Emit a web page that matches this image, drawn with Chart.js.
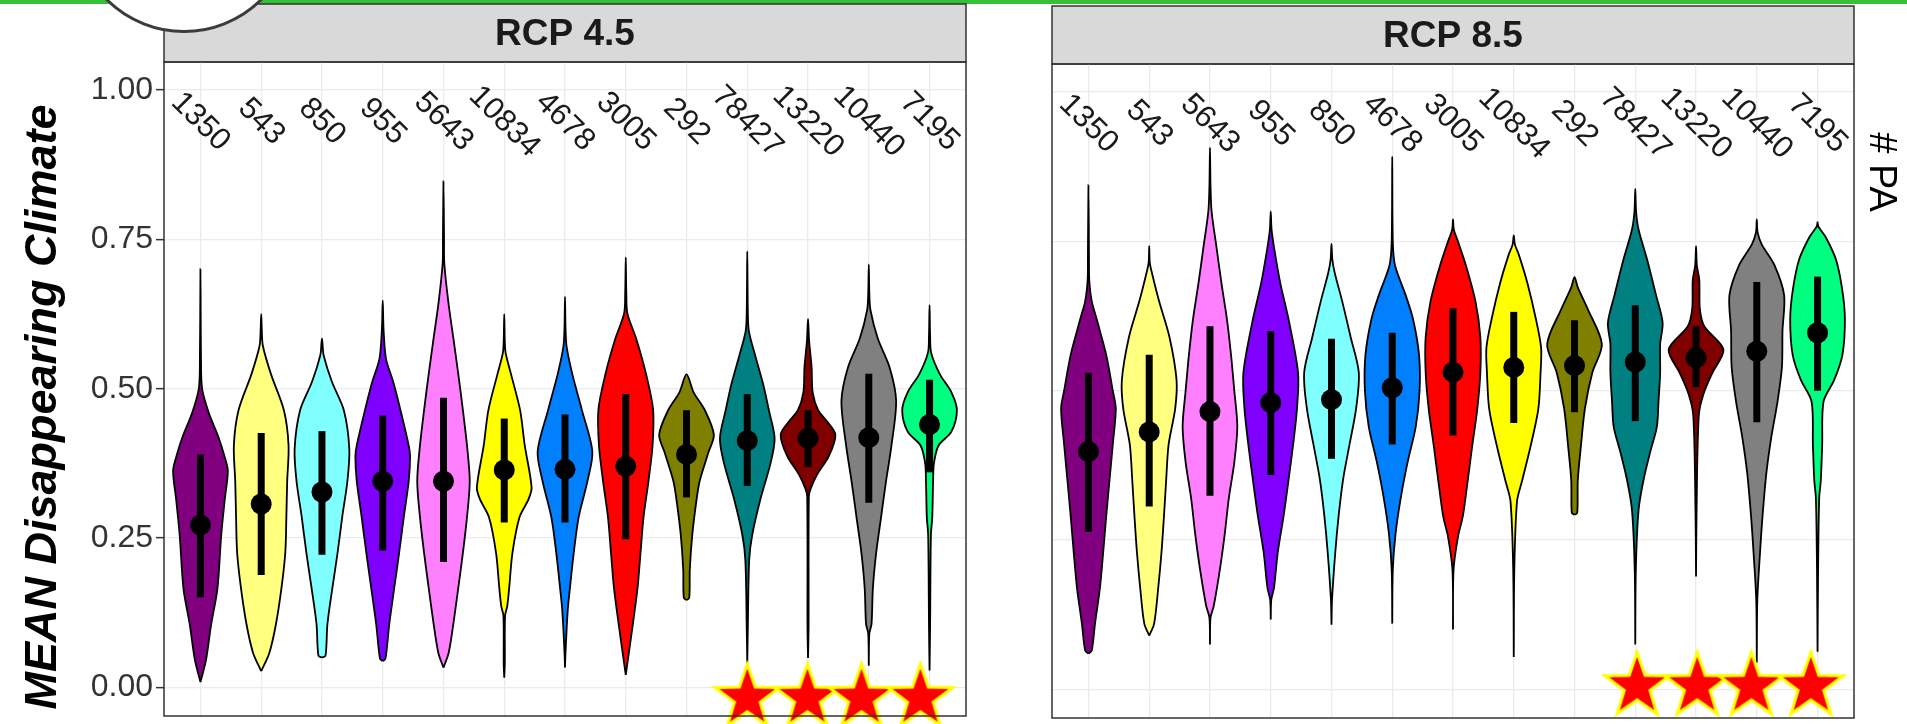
<!DOCTYPE html>
<html>
<head>
<meta charset="utf-8">
<script src="https://cdn.jsdelivr.net/npm/chart.js@4.4.1/dist/chart.umd.min.js"></script>
<style>
  body { margin: 0; width: 1907px; height: 724px; overflow: hidden; background: #fff; position: relative; }
  #topBar { position: absolute; left: 0; top: 0; width: 1907px; height: 4px; background: #35c035; }
  #logo { position: absolute; left: 73px; top: -189px; width: 216px; height: 216px; border: 3px solid #3c3c3c; border-radius: 50%; background: #fff; z-index: 5; }
  canvas { position: absolute; }
  #left { left: 0; top: 0; }
  #right { left: 1000px; top: 2px; }
</style>
</head>
<body>
<div id="topBar"></div>
<div id="logo"></div>
<canvas id="left" width="1000" height="724"></canvas>
<canvas id="right" width="907" height="724"></canvas>
<script>
// ---- data ----
const yTicks = [0, 0.25, 0.5, 0.75, 1];

const rcp45Labels = ['1350', '543', '850', '955', '5643', '10834', '4678', '3005', '292', '78427', '13220', '10440', '7195'];
const rcp45Mean = [0.272, 0.307, 0.327, 0.345, 0.345, 0.364, 0.365, 0.370, 0.390, 0.413, 0.417, 0.418, 0.440];
const rcp45Low  = [0.151, 0.188, 0.222, 0.229, 0.210, 0.276, 0.276, 0.248, 0.318, 0.337, 0.369, 0.309, 0.360];
const rcp45High = [0.390, 0.426, 0.429, 0.455, 0.485, 0.450, 0.457, 0.491, 0.464, 0.491, 0.464, 0.525, 0.515];
const rcp45Stars = [10, 10.99, 11.88, 12.85];
const rcp45StarLevel = -0.013;
// violin profiles: [value, relative half width]
const rcp45Shape = [
  [[0.009, 0], [0.045, 0.20], [0.105, 0.39], [0.165, 0.62], [0.255, 0.76], [0.315, 0.89], [0.363, 1.0], [0.39, 0.86], [0.42, 0.65], [0.46, 0.30], [0.50, 0.06], [0.55, 0.02], [0.70, 0]],
  [[0.027, 0], [0.058, 0.30], [0.106, 0.54], [0.166, 0.74], [0.225, 0.88], [0.285, 0.92], [0.345, 0.95], [0.405, 1.0], [0.464, 0.83], [0.524, 0.36], [0.572, 0.06], [0.60, 0.02], [0.625, 0]],
  [[0.050, 0], [0.053, 0.13], [0.106, 0.20], [0.166, 0.38], [0.225, 0.57], [0.285, 0.74], [0.345, 0.93], [0.399, 1.0], [0.464, 0.80], [0.512, 0.36], [0.556, 0.06], [0.575, 0.02], [0.584, 0]],
  [[0.044, 0], [0.048, 0.10], [0.106, 0.24], [0.166, 0.42], [0.225, 0.60], [0.285, 0.77], [0.345, 0.95], [0.387, 1.0], [0.405, 0.95], [0.464, 0.65], [0.512, 0.38], [0.55, 0.12], [0.60, 0.03], [0.648, 0]],
  [[0.033, 0], [0.058, 0.19], [0.106, 0.36], [0.166, 0.54], [0.225, 0.71], [0.285, 0.86], [0.345, 0.96], [0.405, 0.86], [0.464, 0.71], [0.525, 0.54], [0.585, 0.36], [0.644, 0.18], [0.71, 0.03], [0.75, 0.02], [0.847, 0]],
  [[0.016, 0], [0.04, 0.02], [0.12, 0.03], [0.136, 0.11], [0.166, 0.18], [0.225, 0.30], [0.285, 0.56], [0.315, 0.89], [0.335, 1.0], [0.405, 0.75], [0.464, 0.58], [0.524, 0.25], [0.56, 0.05], [0.58, 0.02], [0.625, 0]],
  [[0.033, 0], [0.06, 0.02], [0.129, 0.10], [0.166, 0.18], [0.225, 0.32], [0.285, 0.50], [0.345, 0.82], [0.395, 1.0], [0.464, 0.62], [0.524, 0.27], [0.57, 0.06], [0.60, 0.02], [0.654, 0]],
  [[0.021, 0], [0.106, 0.26], [0.166, 0.43], [0.225, 0.54], [0.285, 0.65], [0.345, 0.83], [0.405, 0.98], [0.465, 1.0], [0.525, 0.74], [0.584, 0.38], [0.626, 0.06], [0.66, 0.02], [0.72, 0]],
  [[0.146, 0], [0.150, 0.10], [0.196, 0.12], [0.255, 0.21], [0.315, 0.37], [0.345, 0.48], [0.393, 0.80], [0.423, 1.0], [0.464, 0.67], [0.494, 0.26], [0.524, 0]],
  [[0.040, 0], [0.10, 0.02], [0.213, 0.07], [0.255, 0.18], [0.315, 0.48], [0.375, 0.85], [0.417, 1.0], [0.464, 0.79], [0.506, 0.59], [0.554, 0.30], [0.596, 0.06], [0.63, 0.02], [0.73, 0]],
  [[0.049, 0], [0.10, 0.02], [0.32, 0.03], [0.333, 0.10], [0.357, 0.34], [0.387, 0.76], [0.423, 1.0], [0.445, 0.70], [0.464, 0.37], [0.494, 0.17], [0.536, 0.13], [0.58, 0.04], [0.617, 0]],
  [[0.036, 0], [0.09, 0.02], [0.106, 0.10], [0.166, 0.15], [0.225, 0.27], [0.285, 0.45], [0.345, 0.63], [0.405, 0.83], [0.48, 1.0], [0.536, 0.76], [0.584, 0.33], [0.632, 0.06], [0.66, 0.02], [0.708, 0]],
  [[0.028, 0], [0.10, 0.02], [0.255, 0.05], [0.285, 0.10], [0.345, 0.13], [0.375, 0.16], [0.405, 0.33], [0.428, 0.80], [0.464, 1.0], [0.494, 0.80], [0.524, 0.38], [0.56, 0.06], [0.59, 0.02], [0.64, 0]]
];

const rcp85Labels = ['1350', '543', '5643', '955', '850', '4678', '3005', '10834', '292', '78427', '13220', '10440', '7195'];
const rcp85Mean = [0.398, 0.431, 0.465, 0.480, 0.485, 0.505, 0.531, 0.539, 0.542, 0.548, 0.555, 0.566, 0.597];
const rcp85Low  = [0.264, 0.306, 0.324, 0.359, 0.386, 0.410, 0.425, 0.446, 0.464, 0.449, 0.506, 0.447, 0.500];
const rcp85High = [0.530, 0.560, 0.608, 0.600, 0.587, 0.597, 0.638, 0.632, 0.618, 0.643, 0.608, 0.682, 0.691];
const rcp85Stars = [10.03, 11.02, 11.91, 12.89];
const rcp85StarLevel = 0.01;
const rcp85Shape = [
  [[0.060, 0], [0.065, 0.12], [0.11, 0.24], [0.17, 0.42], [0.23, 0.54], [0.29, 0.65], [0.35, 0.77], [0.41, 0.89], [0.47, 1.0], [0.50, 0.89], [0.56, 0.65], [0.62, 0.30], [0.65, 0.12], [0.685, 0.03], [0.72, 0.02], [0.844, 0]],
  [[0.090, 0], [0.11, 0.18], [0.17, 0.33], [0.23, 0.45], [0.29, 0.54], [0.35, 0.62], [0.41, 0.71], [0.47, 0.95], [0.518, 1.0], [0.59, 0.74], [0.65, 0.36], [0.697, 0.10], [0.715, 0.02], [0.742, 0]],
  [[0.075, 0], [0.12, 0.02], [0.14, 0.14], [0.20, 0.36], [0.26, 0.54], [0.32, 0.69], [0.38, 0.89], [0.44, 1.0], [0.50, 0.89], [0.56, 0.77], [0.62, 0.62], [0.68, 0.42], [0.74, 0.24], [0.80, 0.06], [0.843, 0.02], [0.907, 0]],
  [[0.117, 0], [0.15, 0.02], [0.17, 0.12], [0.23, 0.26], [0.29, 0.47], [0.35, 0.65], [0.41, 0.82], [0.47, 0.96], [0.53, 1.0], [0.62, 0.65], [0.68, 0.35], [0.74, 0.12], [0.77, 0.03], [0.80, 0]],
  [[0.108, 0], [0.15, 0.02], [0.23, 0.14], [0.29, 0.26], [0.35, 0.42], [0.41, 0.66], [0.47, 0.90], [0.53, 1.0], [0.59, 0.70], [0.65, 0.39], [0.697, 0.12], [0.72, 0.03], [0.746, 0]],
  [[0.110, 0], [0.20, 0.02], [0.26, 0.12], [0.32, 0.31], [0.38, 0.56], [0.44, 0.86], [0.50, 1.0], [0.56, 0.98], [0.62, 0.76], [0.66, 0.49], [0.71, 0.10], [0.75, 0.02], [0.892, 0]],
  [[0.100, 0], [0.20, 0.02], [0.255, 0.18], [0.29, 0.36], [0.35, 0.54], [0.41, 0.71], [0.47, 0.89], [0.53, 1.0], [0.59, 1.0], [0.65, 0.82], [0.71, 0.47], [0.75, 0.18], [0.77, 0.03], [0.787, 0]],
  [[0.054, 0], [0.20, 0.02], [0.315, 0.12], [0.35, 0.31], [0.41, 0.63], [0.47, 0.90], [0.53, 0.98], [0.572, 1.0], [0.62, 0.81], [0.68, 0.50], [0.727, 0.19], [0.745, 0.04], [0.76, 0]],
  [[0.292, 0], [0.296, 0.10], [0.35, 0.12], [0.41, 0.24], [0.47, 0.38], [0.53, 0.65], [0.578, 1.0], [0.637, 0.48], [0.673, 0.12], [0.69, 0]],
  [[0.075, 0], [0.20, 0.02], [0.30, 0.12], [0.35, 0.30], [0.398, 0.55], [0.44, 0.79], [0.482, 0.85], [0.53, 0.91], [0.578, 0.91], [0.614, 1.0], [0.66, 0.76], [0.72, 0.43], [0.77, 0.12], [0.80, 0.03], [0.838, 0]],
  [[0.189, 0], [0.30, 0.02], [0.458, 0.10], [0.494, 0.27], [0.53, 0.60], [0.569, 1.0], [0.608, 0.30], [0.637, 0.14], [0.685, 0.12], [0.71, 0.03], [0.742, 0]],
  [[0.045, 0], [0.15, 0.02], [0.23, 0.12], [0.29, 0.21], [0.362, 0.35], [0.422, 0.53], [0.482, 0.76], [0.54, 0.92], [0.60, 0.94], [0.66, 1.0], [0.71, 0.65], [0.745, 0.18], [0.765, 0.03], [0.787, 0]],
  [[0.063, 0], [0.20, 0.02], [0.32, 0.06], [0.35, 0.12], [0.41, 0.17], [0.482, 0.22], [0.518, 0.61], [0.56, 0.91], [0.62, 1.0], [0.67, 0.90], [0.72, 0.67], [0.757, 0.30], [0.775, 0.03], [0.782, 0]]
];

const paColors = {
  '1350': '#800080', '543': '#FFFF80', '850': '#80FFFF', '955': '#8000FF',
  '5643': '#FF80FF', '10834': '#FFFF00', '4678': '#0080FF', '3005': '#FF0000',
  '292': '#808000', '78427': '#008080', '13220': '#800000', '10440': '#808080', '7195': '#00FF80'
};

const FONT = "'Liberation Sans', Arial, Helvetica, sans-serif";
const labelLevel = 0.947;

// closed outline of one violin, right side going up then left side coming down
function violinOutline(shape, center) {
  const half = 0.45;
  const right = shape.map(([y, w]) => ({x: center + half * w, y: y}));
  const left = shape.slice(0, -1).reverse().map(([y, w]) => ({x: center - half * w, y: y}));
  return right.concat(left);
}

function makeStar() {
  const c = document.createElement('canvas');
  c.width = 76; c.height = 76;
  const g = c.getContext('2d');
  const R = 34, r = 13.5;
  g.beginPath();
  for (let k = 0; k < 10; k++) {
    const rad = k % 2 ? r : R;
    const a = -Math.PI / 2 + k * Math.PI / 5;
    const px = 38 + rad * Math.cos(a);
    const py = 41 + rad * Math.sin(a);
    if (k === 0) g.moveTo(px, py); else g.lineTo(px, py);
  }
  g.closePath();
  g.fillStyle = '#FF0000';
  g.fill();
  g.lineWidth = 3;
  g.strokeStyle = '#FFFF00';
  g.stroke();
  return c;
}
const starImg = makeStar();

const panelPlugin = {
  id: 'panel',
  beforeDraw(chart, args, opts) {
    const {ctx, chartArea: a} = chart;
    ctx.save();
    ctx.fillStyle = '#D9D9D9';
    ctx.fillRect(a.left, 4, a.right - a.left, a.top - 4);
    ctx.strokeStyle = '#333';
    ctx.lineWidth = 1.5;
    ctx.strokeRect(a.left, 4, a.right - a.left, a.top - 4);
    ctx.fillStyle = '#1A1A1A';
    ctx.font = 'bold 37px ' + FONT;
    ctx.textAlign = 'center';
    ctx.textBaseline = 'middle';
    ctx.fillText(opts.title, (a.left + a.right) / 2, (4 + a.top) / 2 + 2);
    // y-axis title, sitting a little below the axis middle as in the figure
    if (opts.yTitle) {
      ctx.save();
      ctx.font = 'italic bold 45px ' + FONT;
      ctx.fillStyle = '#000';
      ctx.translate(44, (a.top + a.bottom) / 2 + 18);
      ctx.rotate(-Math.PI / 2);
      ctx.fillText(opts.yTitle, 0, 0);
      ctx.restore();
    }
    ctx.restore();
  },
  afterDatasetsDraw(chart, args, opts) {
    const {ctx, chartArea: a} = chart;
    const xs = chart.scales.x, ys = chart.scales.y;
    ctx.save();
    ctx.font = '31px ' + FONT;
    ctx.fillStyle = '#1A1A1A';
    ctx.textAlign = 'center';
    ctx.textBaseline = 'middle';
    opts.labels.forEach((t, i) => {
      ctx.save();
      ctx.translate(xs.getPixelForValue(i + 1), ys.getPixelForValue(labelLevel));
      ctx.rotate(Math.PI / 4);
      ctx.fillText(t, 0, 0);
      ctx.restore();
    });
    ctx.strokeStyle = '#333';
    ctx.lineWidth = 1.5;
    ctx.strokeRect(a.left, a.top, a.right - a.left, a.bottom - a.top);
    if (opts.side) {
      ctx.save();
      ctx.font = '38px ' + FONT;
      ctx.fillStyle = '#000';
      ctx.translate(a.right + 26, a.top + 108);
      ctx.rotate(Math.PI / 2);
      ctx.fillText(opts.side, 0, 0);
      ctx.restore();
    }
    ctx.restore();
  }
};

function buildPanel(id, p) {
  const datasets = [];
  p.labels.forEach((pa, i) => {
    datasets.push({
      data: violinOutline(p.shape[i], i + 1),
      backgroundColor: paColors[pa],
      borderColor: '#000',
      borderWidth: 1.8,
      fill: 'shape',
      tension: 0.3,
      pointRadius: 0,
      order: 3
    });
    datasets.push({
      data: [{x: i + 1, y: p.low[i]}, {x: i + 1, y: p.high[i]}],
      borderColor: '#000',
      borderWidth: 7,
      borderCapStyle: 'butt',
      fill: false,
      pointRadius: 0,
      order: 2
    });
  });
  datasets.push({
    data: p.mean.map((m, i) => ({x: i + 1, y: m})),
    showLine: false,
    pointRadius: 10.5,
    pointBackgroundColor: '#000',
    pointBorderWidth: 0,
    order: 1
  });
  datasets.push({
    data: p.stars.map(s => ({x: s, y: p.starLevel})),
    showLine: false,
    pointStyle: starImg,
    pointRadius: 30,
    clip: false,
    order: 0
  });

  return new Chart(document.getElementById(id), {
    type: 'line',
    data: {datasets: datasets},
    options: {
      responsive: false,
      animation: false,
      events: [],
      layout: {autoPadding: false, padding: {top: 62, right: p.padRight, bottom: 8, left: 0}},
      plugins: {
        legend: {display: false},
        tooltip: {enabled: false},
        panel: {title: p.title, labels: p.labels, side: p.side, yTitle: p.yTitle}
      },
      scales: {
        x: {
          type: 'linear', min: 0.4, max: 13.6,
          afterBuildTicks: s => { s.ticks = p.labels.map((_, i) => ({value: i + 1})); },
          afterFit: s => { s.height = 0; s.paddingLeft = 0; s.paddingRight = 0; },
          ticks: {display: false},
          grid: {color: '#EBEBEB', lineWidth: 1.3, drawTicks: false},
          border: {display: false}
        },
        y: {
          type: 'linear', min: -0.048, max: 1.047,
          afterBuildTicks: s => { s.ticks = yTicks.map(v => ({value: v})); },
          afterFit: s => { s.width = p.axisWidth; s.paddingTop = 0; s.paddingBottom = 0; },
          ticks: {
            display: p.showTicks,
            font: {family: FONT, size: 32},
            color: '#333',
            padding: 3,
            callback: v => Number(v).toFixed(2)
          },
          grid: {color: '#EBEBEB', lineWidth: 1.3, drawTicks: p.showTicks, tickLength: 8, tickColor: '#333', tickWidth: 1.5},
          border: {display: false}
        }
      }
    },
    plugins: [panelPlugin]
  });
}

buildPanel('left', {
  title: 'RCP 4.5', labels: rcp45Labels, mean: rcp45Mean, low: rcp45Low, high: rcp45High,
  shape: rcp45Shape, stars: rcp45Stars, starLevel: rcp45StarLevel,
  padRight: 34, axisWidth: 164, showTicks: true, yTitle: 'MEAN Disappearing Climate'
});
buildPanel('right', {
  title: 'RCP 8.5', labels: rcp85Labels, mean: rcp85Mean, low: rcp85Low, high: rcp85High,
  shape: rcp85Shape, stars: rcp85Stars, starLevel: rcp85StarLevel,
  padRight: 53, axisWidth: 52, showTicks: false, side: '# PA'
});
</script>
</body>
</html>
